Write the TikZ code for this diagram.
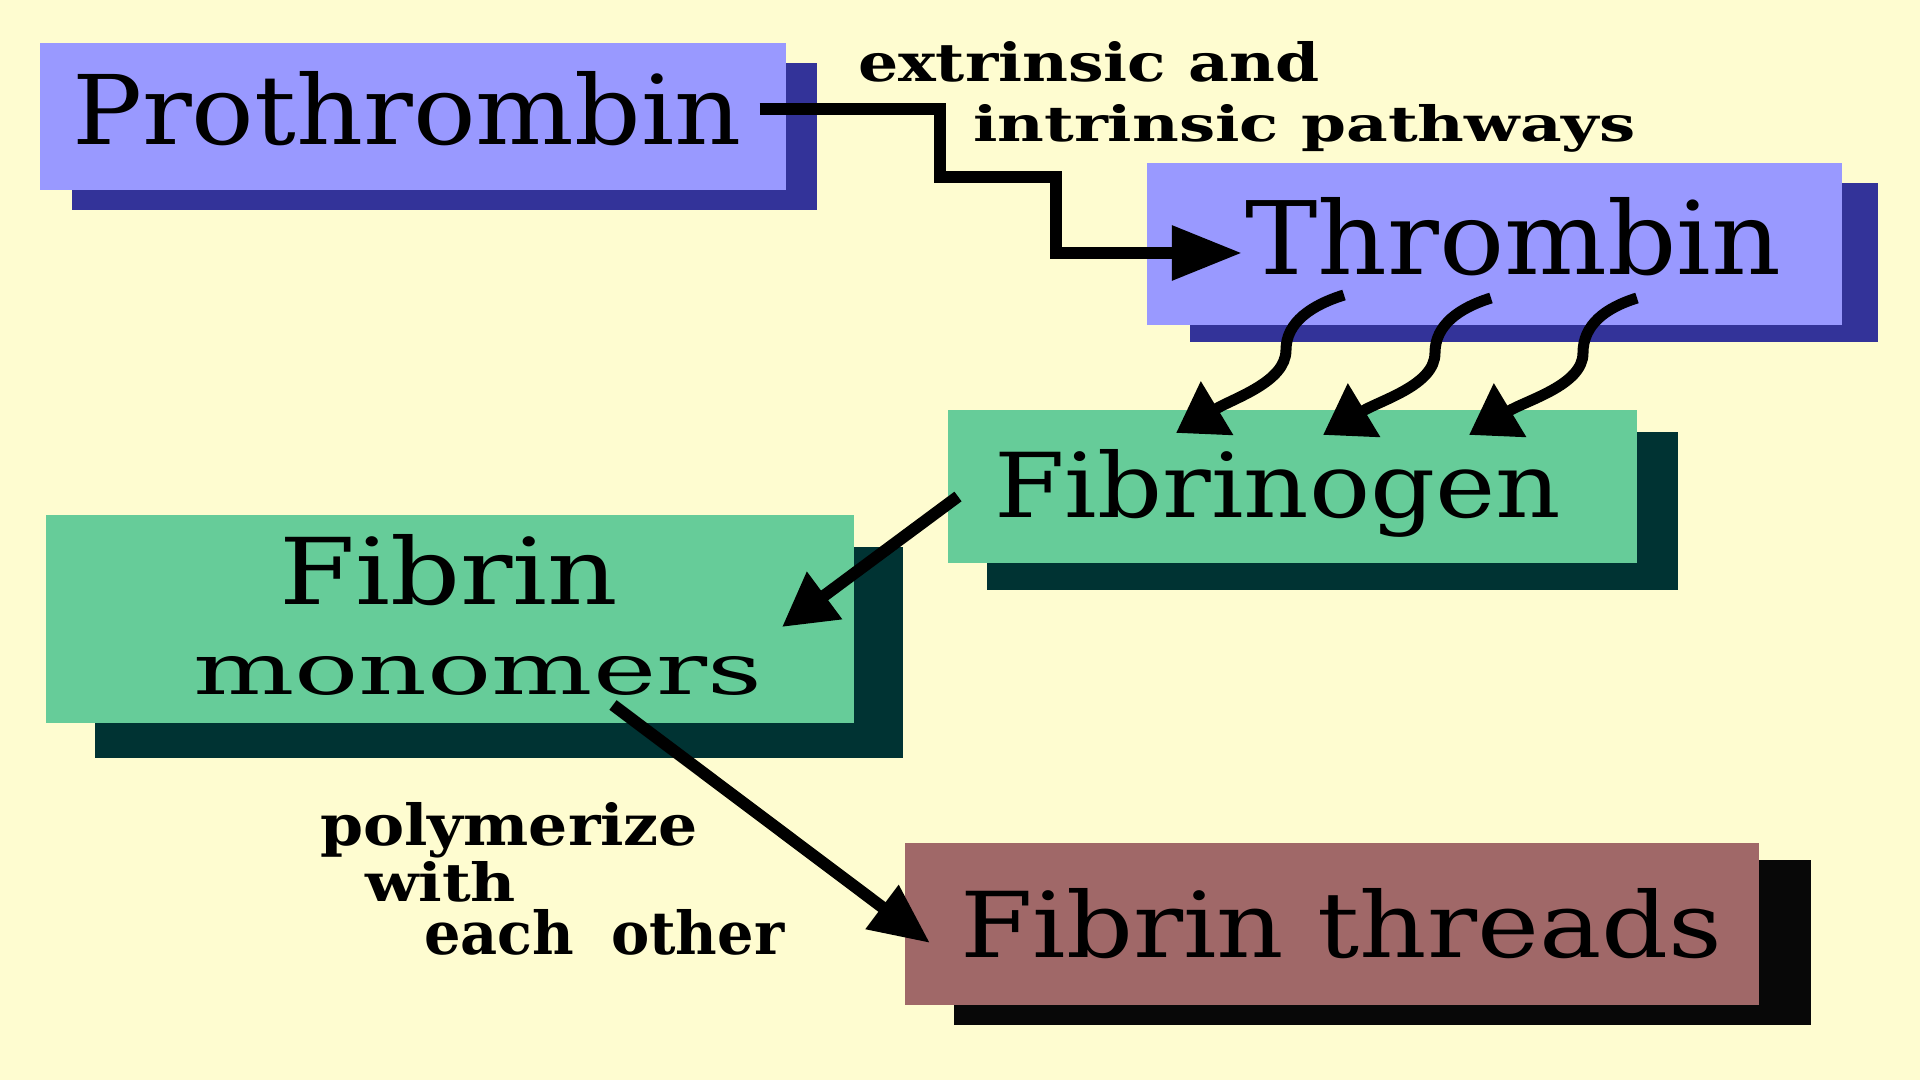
\documentclass[tikz,border=0pt]{standalone}
\usepackage{graphicx}
\usepackage{fontspec}
\setmainfont{DejaVu Serif}
\usetikzlibrary{arrows.meta,fit}
\definecolor{bg}{RGB}{254,252,208}
\definecolor{lilac}{RGB}{153,153,255}
\definecolor{lilacsh}{RGB}{51,51,153}
\definecolor{mint}{RGB}{102,204,153}
\definecolor{mintsh}{RGB}{0,51,51}
\definecolor{rose}{RGB}{160,104,104}
\definecolor{rosesh}{RGB}{8,8,8}
\begin{document}
\begin{tikzpicture}[x=0.01cm,y=-0.01cm,
  boxnode/.style={inner sep=0pt, outer sep=0pt, draw=none},
  txt/.style={anchor=base west, inner sep=0pt, outer sep=0pt},
  conn/.style={line width=0.12cm, draw=black},
  curl/.style={line width=0.11cm, draw=black, -{Triangle[length=0.48cm,width=0.6cm]}}]
\fill[bg] (0,0) rectangle (1920,1080);
\useasboundingbox (0,0) rectangle (1920,1080);
% shadows
\node[boxnode, fill=lilacsh, fit={(72,63) (817,210)}] (psh) {};
\node[boxnode, fill=lilacsh, fit={(1190,183) (1878,342)}] (tsh) {};
\node[boxnode, fill=mintsh, fit={(987,432) (1678,590)}] (fsh) {};
\node[boxnode, fill=mintsh, fit={(95,547) (903,758)}] (msh) {};
\node[boxnode, fill=rosesh, fit={(954,860) (1811,1025)}] (rsh) {};
% boxes
\node[boxnode, fill=lilac, fit={(40,43) (786,190)}] (pbox) {};
\node[boxnode, fill=lilac, fit={(1147,163) (1842,325)}] (tbox) {};
\node[boxnode, fill=mint, fit={(948,410) (1637,563)}] (fbox) {};
\node[boxnode, fill=mint, fit={(46,515) (854,723)}] (mbox) {};
\node[boxnode, fill=rose, fit={(905,843) (1759,1005)}] (rbox) {};
% box texts
\node[txt] (ptext) at (72,145) {\resizebox{6.69cm}{0.73cm}{Prothrombin}};
\node[txt] (ttext) at (1245,275) {\resizebox{5.36cm}{0.77cm}{Thrombin}};
\node[txt] (fgtext) at (994,518) {\resizebox{5.67cm}{0.68cm}{Fibrinogen}};
\node[txt] (fmtext1) at (279,605) {\resizebox{3.39cm}{0.70cm}{Fibrin}};
\node[txt] (fmtext2) at (193,695) {\resizebox{5.69cm}{0.38cm}{monomers}};
\node[txt] (fttext) at (960,958) {\resizebox{7.62cm}{0.69cm}{Fibrin threads}};
% labels
\node[txt] (lab1) at (858,82) {\resizebox{4.61cm}{0.40cm}{\bfseries extrinsic and}};
\node[txt] (lab2) at (973,142) {\resizebox{6.62cm}{0.37cm}{\bfseries intrinsic pathways}};
\node[txt] (lab3) at (320,846) {\resizebox{3.78cm}{0.43cm}{\bfseries polymerize}};
\node[txt] (lab4) at (365,902) {\resizebox{1.51cm}{0.40cm}{\bfseries with}};
\node[txt] (lab5) at (424,955) {\resizebox{3.60cm}{0.45cm}{\bfseries each\hspace{0.3em} other}};
% connectors
\draw[conn, -{Triangle[length=0.7cm,width=0.52cm]}]
  ([xshift=0.18cm]ptext.east) -| (940,177) -| (1056,253) -- ([shift={(-3,-22)}]ttext.base west);
\draw[curl] ([shift={(197,-30)}]tbox.south west) .. controls +(-32,10) and +(0,-28) .. (1286,350)
  .. controls +(0,32) and +(58,-35) .. ([shift={(228,23)}]fbox.north west);
\draw[curl] ([shift={(344,-27)}]tbox.south west) .. controls +(-32,10) and +(0,-28) .. (1435,353)
  .. controls +(0,32) and +(58,-35) .. ([shift={(375,25)}]fbox.north west);
\draw[curl] ([shift={(490,-27)}]tbox.south west) .. controls +(-32,10) and +(0,-28) .. (1583,353)
  .. controls +(0,32) and +(58,-35) .. ([shift={(521,25)}]fbox.north west);
\draw[conn, -{Triangle[length=0.53cm,width=0.56cm]}]
  ([shift={(10,10)}]fbox.west) -- ([shift={(-72,8)}]mbox.east);
\draw[conn, -{Triangle[length=0.6cm,width=0.52cm]}]
  ([shift={(163,-18)}]mbox.south) -- ([shift={(25,19)}]rbox.west);
\end{tikzpicture}
\end{document}
